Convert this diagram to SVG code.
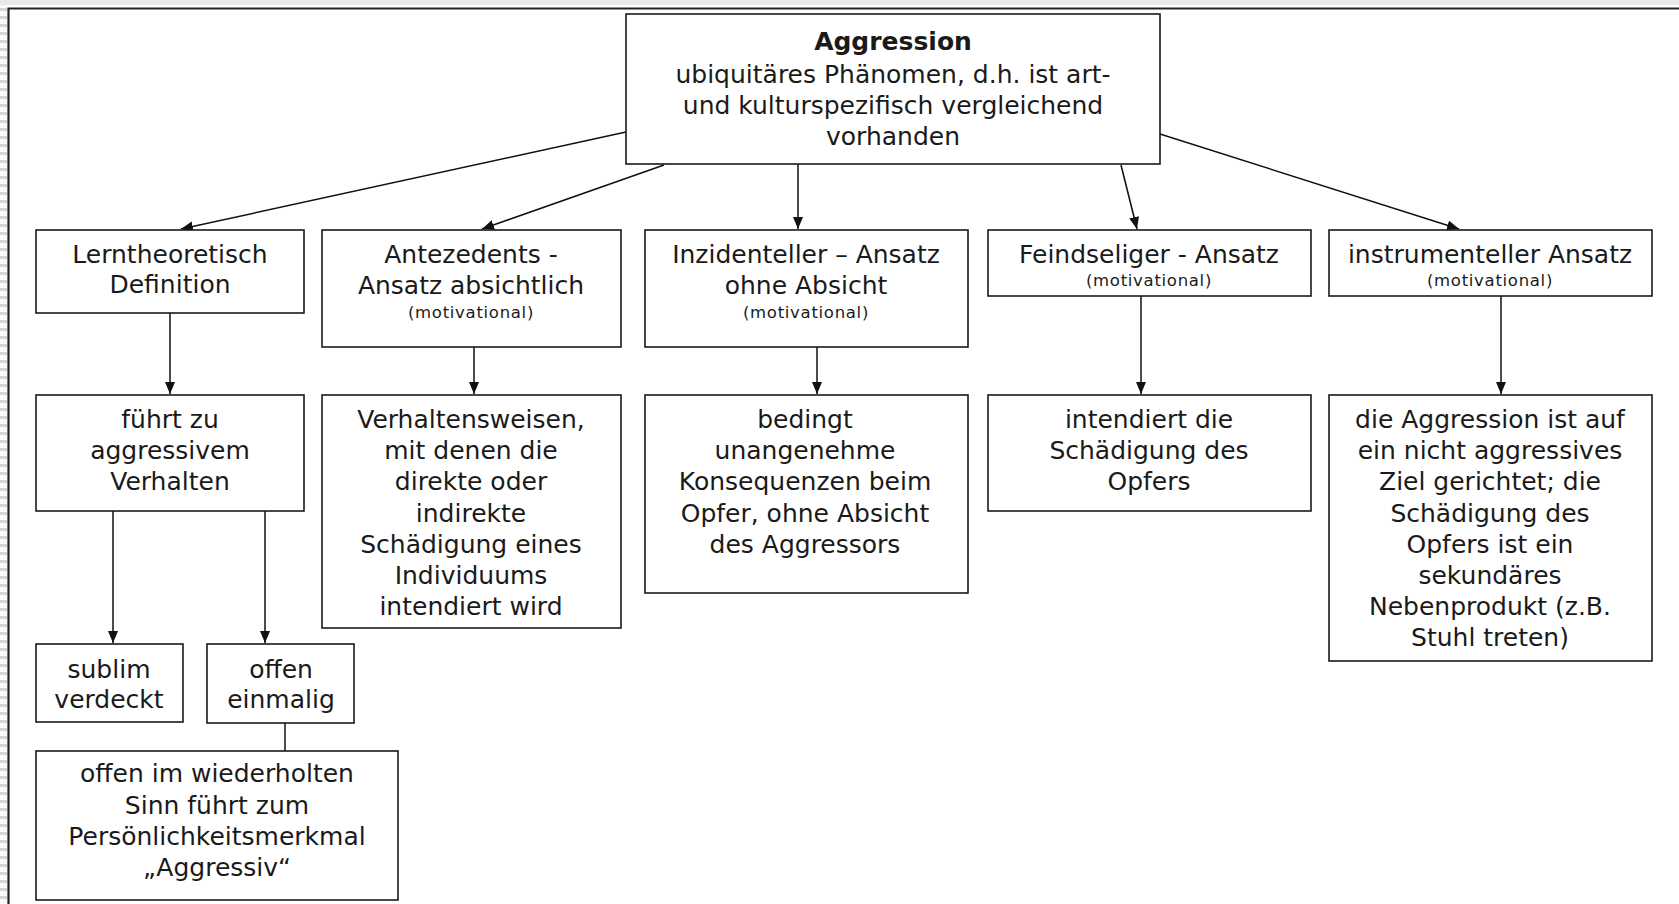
<svg xmlns="http://www.w3.org/2000/svg" width="1679" height="904" viewBox="0 0 1679 904">
<defs>
<marker id="arr" markerUnits="userSpaceOnUse" markerWidth="14" markerHeight="12" refX="12" refY="5" orient="auto">
<path d="M0,0 L12,5 L0,10 z" fill="#111"/>
</marker>
<pattern id="stripes" patternUnits="userSpaceOnUse" width="8" height="8">
<rect width="8" height="8" fill="#fafafa"/>
<rect y="0" width="8" height="3" fill="#d6d6d6"/>
</pattern>
<style>
.box{fill:#fff;stroke:#1a1a1a;stroke-width:1.6}
.t{font-family:"DejaVu Sans",Verdana,sans-serif;font-size:25px;fill:#1a1a1a;text-anchor:middle}
.b{font-weight:bold}
.s{font-size:16.5px;letter-spacing:0.7px}
.c{stroke:#111;stroke-width:1.5;fill:none}
</style>
</defs>
<rect width="1679" height="904" fill="#fff"/>
<rect x="0" y="0" width="1679" height="5" fill="#e9e9e9"/>
<rect x="0" y="5" width="7" height="899" fill="url(#stripes)"/>
<path d="M8.5,904 V8.5 H1679" fill="none" stroke="#222" stroke-width="2.2"/>

<g id="connectors">
<line class="c" x1="626" y1="132" x2="181" y2="229" marker-end="url(#arr)"/>
<line class="c" x1="664" y1="165" x2="482" y2="229" marker-end="url(#arr)"/>
<line class="c" x1="798" y1="164" x2="798" y2="229" marker-end="url(#arr)"/>
<line class="c" x1="1121" y1="165" x2="1137" y2="229" marker-end="url(#arr)"/>
<line class="c" x1="1160" y1="134" x2="1459" y2="229" marker-end="url(#arr)"/>
<line class="c" x1="170" y1="313" x2="170" y2="394" marker-end="url(#arr)"/>
<line class="c" x1="474" y1="347" x2="474" y2="394" marker-end="url(#arr)"/>
<line class="c" x1="817" y1="347" x2="817" y2="394" marker-end="url(#arr)"/>
<line class="c" x1="1141" y1="296" x2="1141" y2="394" marker-end="url(#arr)"/>
<line class="c" x1="1501" y1="296" x2="1501" y2="394" marker-end="url(#arr)"/>
<line class="c" x1="113" y1="511" x2="113" y2="643" marker-end="url(#arr)"/>
<line class="c" x1="265" y1="511" x2="265" y2="643" marker-end="url(#arr)"/>
<line class="c" x1="285" y1="723" x2="285" y2="751"/>
</g>

<g id="root">
<rect class="box" x="626" y="14" width="534" height="150"/>
<text class="t b" x="893" y="50">Aggression</text>
<text class="t" x="893" y="83">ubiquitäres Phänomen, d.h. ist art-</text>
<text class="t" x="893" y="114">und kulturspezifisch vergleichend</text>
<text class="t" x="893" y="145">vorhanden</text>
</g>

<g id="lerntheoretisch">
<rect class="box" x="36" y="230" width="268" height="83"/>
<text class="t" x="170" y="263">Lerntheoretisch</text>
<text class="t" x="170" y="293">Definition</text>
</g>

<g id="antezedents">
<rect class="box" x="322" y="230" width="299" height="117"/>
<text class="t" x="471" y="263">Antezedents -</text>
<text class="t" x="471" y="294">Ansatz absichtlich</text>
<text class="t s" x="471" y="318">(motivational)</text>
</g>

<g id="inzidenteller">
<rect class="box" x="645" y="230" width="323" height="117"/>
<text class="t" x="806" y="263">Inzidenteller – Ansatz</text>
<text class="t" x="806" y="294">ohne Absicht</text>
<text class="t s" x="806" y="318">(motivational)</text>
</g>

<g id="feindseliger">
<rect class="box" x="988" y="230" width="323" height="66"/>
<text class="t" x="1149" y="263">Feindseliger - Ansatz</text>
<text class="t s" x="1149" y="286">(motivational)</text>
</g>

<g id="instrumenteller">
<rect class="box" x="1329" y="230" width="323" height="66"/>
<text class="t" x="1490" y="263">instrumenteller Ansatz</text>
<text class="t s" x="1490" y="286">(motivational)</text>
</g>

<g id="fuehrt">
<rect class="box" x="36" y="395" width="268" height="116"/>
<text class="t" x="170" y="428">führt zu</text>
<text class="t" x="170" y="459">aggressivem</text>
<text class="t" x="170" y="490">Verhalten</text>
</g>

<g id="verhaltensweisen">
<rect class="box" x="322" y="395" width="299" height="233"/>
<text class="t" x="471" y="428">Verhaltensweisen,</text>
<text class="t" x="471" y="459">mit denen die</text>
<text class="t" x="471" y="490">direkte oder</text>
<text class="t" x="471" y="522">indirekte</text>
<text class="t" x="471" y="553">Schädigung eines</text>
<text class="t" x="471" y="584">Individuums</text>
<text class="t" x="471" y="615">intendiert wird</text>
</g>

<g id="bedingt">
<rect class="box" x="645" y="395" width="323" height="198"/>
<text class="t" x="805" y="428">bedingt</text>
<text class="t" x="805" y="459">unangenehme</text>
<text class="t" x="805" y="490">Konsequenzen beim</text>
<text class="t" x="805" y="522">Opfer, ohne Absicht</text>
<text class="t" x="805" y="553">des Aggressors</text>
</g>

<g id="intendiert">
<rect class="box" x="988" y="395" width="323" height="116"/>
<text class="t" x="1149" y="428">intendiert die</text>
<text class="t" x="1149" y="459">Schädigung des</text>
<text class="t" x="1149" y="490">Opfers</text>
</g>

<g id="dieaggression">
<rect class="box" x="1329" y="395" width="323" height="266"/>
<text class="t" x="1490" y="428">die Aggression ist auf</text>
<text class="t" x="1490" y="459">ein nicht aggressives</text>
<text class="t" x="1490" y="490">Ziel gerichtet; die</text>
<text class="t" x="1490" y="522">Schädigung des</text>
<text class="t" x="1490" y="553">Opfers ist ein</text>
<text class="t" x="1490" y="584">sekundäres</text>
<text class="t" x="1490" y="615">Nebenprodukt (z.B.</text>
<text class="t" x="1490" y="646">Stuhl treten)</text>
</g>

<g id="sublim">
<rect class="box" x="36" y="644" width="147" height="78"/>
<text class="t" x="109" y="678">sublim</text>
<text class="t" x="109" y="708">verdeckt</text>
</g>

<g id="offen">
<rect class="box" x="207" y="644" width="147" height="79"/>
<text class="t" x="281" y="678">offen</text>
<text class="t" x="281" y="708">einmalig</text>
</g>

<g id="wiederholt">
<rect class="box" x="36" y="751" width="362" height="149"/>
<text class="t" x="217" y="782">offen im wiederholten</text>
<text class="t" x="217" y="814">Sinn führt zum</text>
<text class="t" x="217" y="845">Persönlichkeitsmerkmal</text>
<text class="t" x="217" y="876">„Aggressiv“</text>
</g>
</svg>
